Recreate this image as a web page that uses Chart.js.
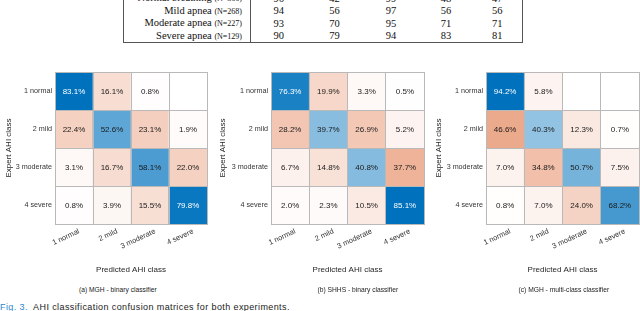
<!DOCTYPE html>
<html><head><meta charset="utf-8">
<script src="https://cdn.jsdelivr.net/npm/chart.js@4.4.1/dist/chart.umd.min.js"></script>
<style>
html,body{margin:0;padding:0;background:#fff;width:640px;height:311px;overflow:hidden;position:relative;}
canvas{position:absolute;}
#tbl{position:absolute;left:123px;top:-8px;border-collapse:collapse;table-layout:fixed;font-family:"Liberation Serif","Times New Roman",serif;font-size:10.5px;color:#111;}
#tbl td{height:11.6px;padding:0;line-height:11.6px;text-align:center;white-space:nowrap;}
#tbl td.lab{text-align:right;padding-right:8px;border-right:1px solid #555;}
#tbl small{font-size:8px;}
.cap{position:absolute;font-family:"Liberation Sans",Arial,sans-serif;white-space:nowrap;color:#222;}
</style></head><body>
<table id="tbl"></table>
<canvas id="cA" width="217" height="220" style="left:-2px;top:55px"></canvas>
<canvas id="cB" width="216" height="220" style="left:212px;top:55px"></canvas>
<canvas id="cC" width="212" height="220" style="left:428px;top:55px"></canvas>
<div class="cap" id="capA" style="top:286px;font-size:6.7px;"></div>
<div class="cap" id="capB" style="top:286px;font-size:6.7px;"></div>
<div class="cap" id="capC" style="top:286px;font-size:6.7px;"></div>
<div class="cap" id="fig" style="left:0;top:302px;font-size:9px;letter-spacing:0.4px;"></div>
<script>
// ---- data ----
const classLabels = ['1 normal', '2 mild', '3 moderate', '4 severe'];
const matrixA = [
  [83.1, 16.1, 0.8, null],
  [22.4, 52.6, 23.1, 1.9],
  [3.1, 16.7, 58.1, 22.0],
  [0.8, 3.9, 15.5, 79.8]
];
const matrixB = [
  [76.3, 19.9, 3.3, 0.5],
  [28.2, 39.7, 26.9, 5.2],
  [6.7, 14.8, 40.8, 37.7],
  [2.0, 2.3, 10.5, 85.1]
];
const matrixC = [
  [94.2, 5.8, null, null],
  [46.6, 40.3, 12.3, 0.7],
  [7.0, 34.8, 50.7, 7.5],
  [0.8, 7.0, 24.0, 68.2]
];
const subCaptions = ['(a) MGH - binary classifier', '(b) SHHS - binary classifier', '(c) MGH - multi-class classifier'];
const xTitle = 'Predicted AHI class';
const yTitle = 'Expert AHI class';
const tableRowLabels = ['Normal breathing', 'Mild apnea', 'Moderate apnea', 'Severe apnea'];
const tableRowN = [366, 268, 227, 129];
const tableValues = [
  [96, 42, 99, 48, 47],
  [94, 56, 97, 56, 56],
  [93, 70, 95, 71, 71],
  [90, 79, 94, 83, 81]
];
const figLabel = 'Fig. 3.';
const figText = 'AHI classification confusion matrices for both experiments.';

// ---- table ----
const colWidths = [127, 56, 56, 57, 53, 50];
const tbl = document.getElementById('tbl');
let html = '<colgroup>' + colWidths.map(w => '<col style="width:' + w + 'px">').join('') + '</colgroup>';
tableRowLabels.forEach((lab, i) => {
  const last = i === tableRowLabels.length - 1;
  html += '<tr style="' + (last ? 'border-bottom:1px solid #555;' : '') + '">';
  html += '<td class="lab" style="border-left:1px solid #555;">' + lab + ' <small>(N=' + tableRowN[i] + ')</small></td>';
  tableValues[i].forEach((v, j) => {
    html += '<td style="' + (j === tableValues[i].length - 1 ? 'border-right:1px solid #555;' : '') + '">' + v + '</td>';
  });
  html += '</tr>';
});
tbl.innerHTML = html;

// ---- captions ----
const capCenters = [118, 358, 564];
['capA', 'capB', 'capC'].forEach((id, k) => {
  const el = document.getElementById(id);
  el.textContent = subCaptions[k];
  el.style.left = (capCenters[k] - el.offsetWidth / 2) + 'px';
});
document.getElementById('fig').innerHTML = '<span style="color:#2f86cf">' + figLabel + '</span>&nbsp; ' + figText;

// ---- confusion charts ----
const DIAG = [0, 114, 189];
const OFF = [217, 83, 25];
function matMax(m) { return Math.max(...m.flat().filter(v => v != null)); }
function cellColor(v, diag, max) {
  if (v == null) return '#ffffff';
  const t = v / max;
  const b = diag ? DIAG : OFF;
  const c = b.map(x => Math.round(255 - (255 - x) * t));
  return 'rgb(' + c.join(',') + ')';
}
const cellText = {
  id: 'cellText',
  afterDatasetsDraw(chart, args, opts) {
    const m = opts.matrix; if (!m) return;
    const max = matMax(m);
    const ctx = chart.ctx;
    ctx.save();
    ctx.font = '8px "Liberation Sans", Arial, sans-serif';
    ctx.textAlign = 'center';
    ctx.textBaseline = 'middle';
    chart.data.datasets.forEach((ds, i) => {
      chart.getDatasetMeta(i).data.forEach((el, j) => {
        const v = m[i][j];
        if (v == null) return;
        ctx.fillStyle = (i === j && v / max > 0.8) ? '#ffffff' : '#1a1a1a';
        ctx.fillText(v.toFixed(1) + '%', el.x, (el.y + el.base) / 2 + 0.5);
      });
    });
    ctx.restore();
  }
};
const GRID = '#b9b9b9';
const FONT = '"Liberation Sans", Arial, sans-serif';
function makeChart(id, matrix, yWidth, padRight) {
  const max = matMax(matrix);
  const datasets = matrix.map((row, i) => ({
    data: classLabels.map(() => [i, i + 1]),
    backgroundColor: row.map((v, j) => cellColor(v, i === j, max)),
    borderWidth: 0,
    barPercentage: 1,
    categoryPercentage: 1,
    grouped: false
  }));
  return new Chart(document.getElementById(id), {
    type: 'bar',
    data: { labels: classLabels, datasets },
    plugins: [cellText],
    options: {
      responsive: false,
      animation: false,
      events: [],
      layout: { padding: { top: 17, right: padRight, bottom: 0, left: 0 } },
      plugins: { legend: { display: false }, tooltip: { enabled: false }, cellText: { matrix } },
      scales: {
        x: {
          type: 'category',
          offset: true,
          grid: { offset: true, color: GRID, drawTicks: false, z: 1 },
          border: { color: GRID, z: 1 },
          ticks: { color: '#333', font: { family: FONT, size: 7.4 }, minRotation: 25, maxRotation: 25, padding: 3, labelOffset: 5, autoSkip: false },
          title: { display: true, text: xTitle, color: '#262626', font: { family: FONT, size: 8 }, padding: { top: 2, bottom: 0 } },
          afterFit(s) { s.height = 51; }
        },
        y: {
          type: 'linear',
          min: 0,
          max: classLabels.length,
          reverse: true,
          afterBuildTicks(s) {
            const t = [];
            for (let k = 0; k <= classLabels.length * 2; k++) t.push({ value: k / 2 });
            s.ticks = t;
          },
          grid: {
            color: c => (c.tick && c.tick.value % 1 === 0) ? GRID : 'rgba(0,0,0,0)',
            drawTicks: false, z: 1
          },
          border: { color: GRID, z: 1 },
          ticks: {
            color: '#333', font: { family: FONT, size: 7.2 }, padding: 3, autoSkip: false,
            callback: v => (v % 1 === 0.5) ? classLabels[Math.floor(v)] : ''
          },
          title: { display: true, text: yTitle, color: '#262626', font: { family: FONT, size: 8 }, padding: { top: 5.5, bottom: 0 } },
          afterFit(s) { s.width = yWidth; }
        }
      }
    }
  });
}
makeChart('cA', matrixA, 57, 8);
makeChart('cB', matrixB, 59, 4);
makeChart('cC', matrixC, 58, 1);
</script>
</body></html>
